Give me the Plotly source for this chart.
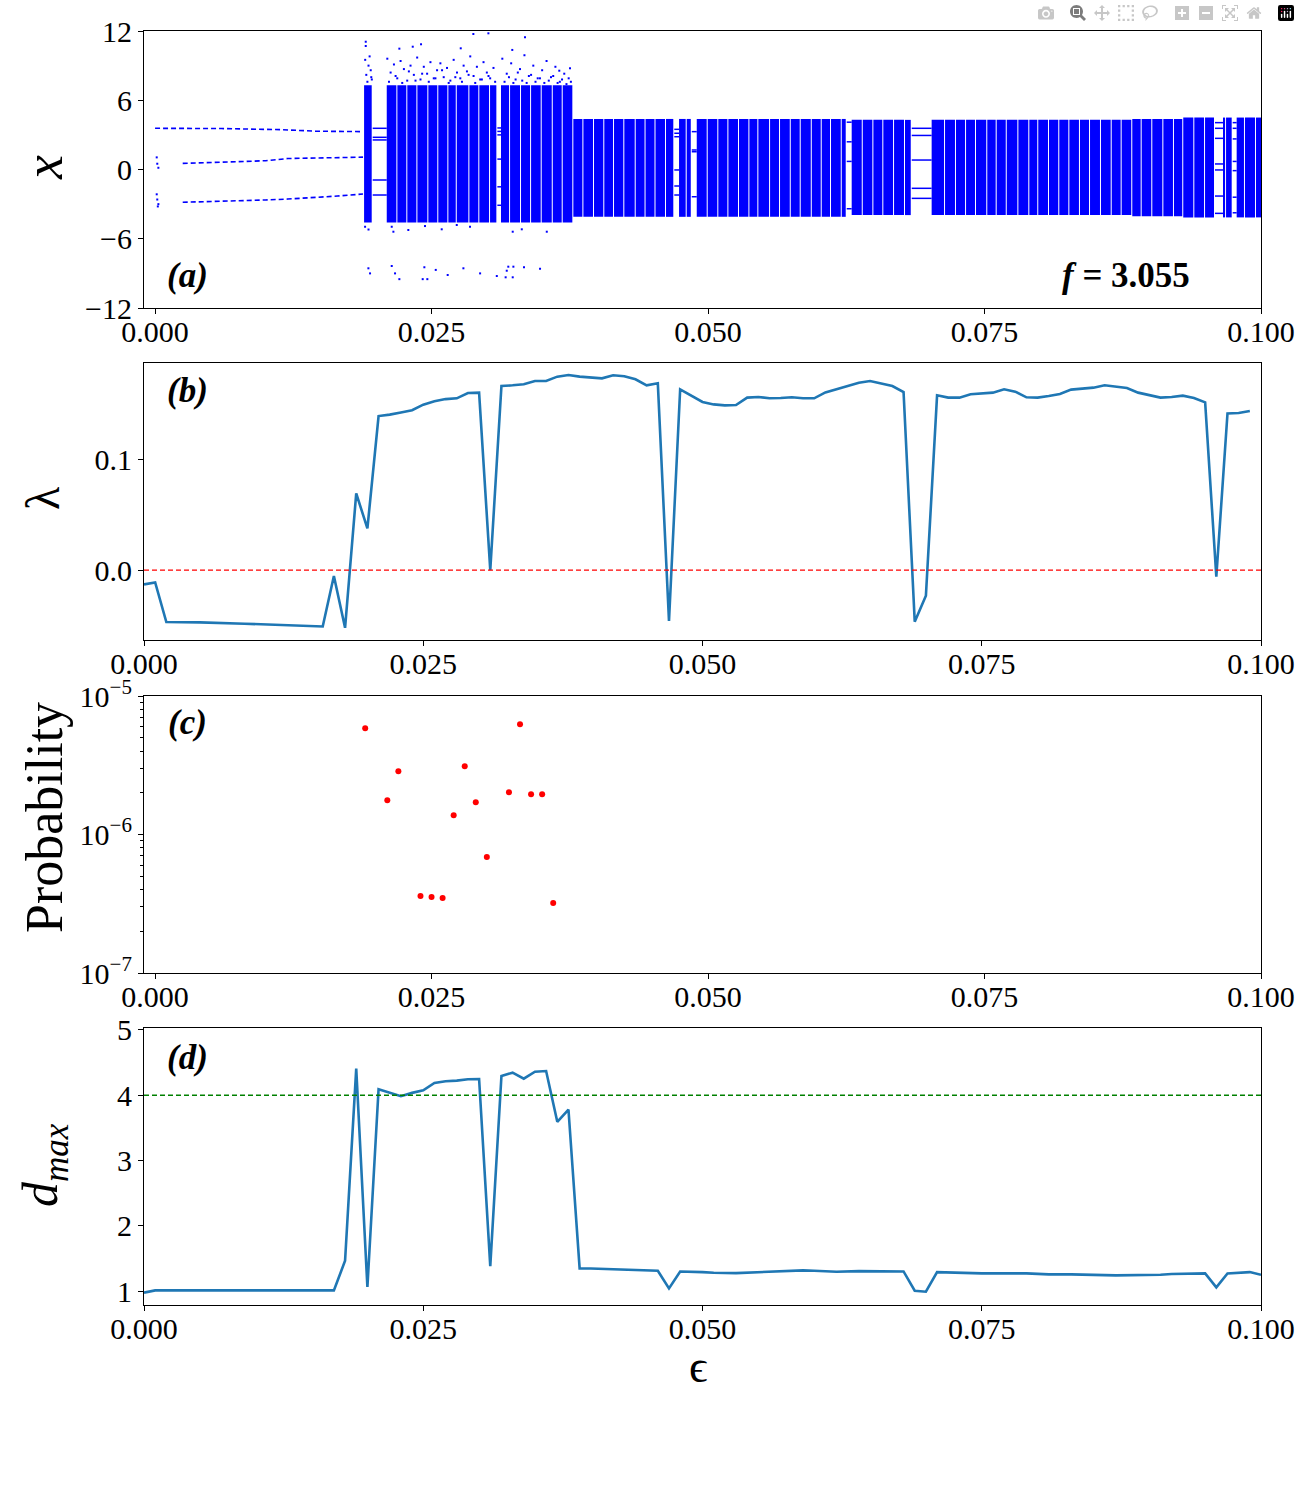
import plotly.graph_objects as go
from plotly.subplots import make_subplots

FONT = "Liberation Serif"
BLUE = "#0000ff"
LINE_COLOR = "#1f77b4"

# ---- (a) bifurcation diagram, eps given in units of 1e-3 ----
# periodic branches before the chaotic onset
top_eps = [0.0, 6.0, 11.5, 14.5, 18.8]
top_x = [3.57, 3.55, 3.45, 3.32, 3.28]
mid_eps = [2.5, 6.5, 10.0, 12.0, 14.5, 18.8]
mid_x = [0.53, 0.62, 0.76, 0.95, 1.0, 1.07]
bot_eps = [2.5, 6.5, 10.0, 12.0, 14.5, 16.5, 18.8]
bot_x = [-2.84, -2.76, -2.64, -2.56, -2.45, -2.3, -2.12]
start_eps = [0.15, 0.2, 0.3, 0.15, 0.2, 0.3, 0.25]
start_x = [1.05, 0.5, 0.15, -2.15, -2.6, -3.0, -3.2]

# edges of the columns of the chaotic attractor
col_edges = [18.90, 19.68, 20.95, 21.91, 22.81, 23.72, 24.71, 25.61, 26.52, 27.28,
             28.42, 29.32, 30.29, 30.95, 31.28, 32.10, 33.09, 34.00, 34.96, 35.96,
             36.86, 37.82, 38.73, 39.69, 40.62, 41.50, 42.43, 43.46, 44.35, 45.25,
             46.20, 46.95, 47.38, 48.07, 48.53, 48.98, 49.97, 50.93, 51.84, 52.80,
             53.74, 54.55, 55.61, 56.51, 57.48, 58.38, 59.38, 60.28, 61.12, 62.09,
             62.54, 62.99, 63.99, 64.95, 65.85, 66.82, 67.81, 68.42, 70.22, 71.43,
             72.42, 73.33, 74.23, 75.25, 76.10, 77.01, 78.06, 79.05, 79.86, 80.83,
             81.76, 82.67, 83.63, 84.54, 85.53, 86.50, 87.40, 88.36, 89.21, 90.17,
             91.17, 92.13, 92.97, 93.97, 94.94, 95.84, 96.65, 96.84, 97.44, 97.80,
             98.55, 99.55, 100.0]
col_gap = 0.09

# band extent: from eps onward
seg_eps = [0.0, 37.82, 62.5, 88.6, 92.9]
seg_lo = [-4.6, -4.1, -3.95, -4.05, -4.15]
seg_hi = [7.3, 4.38, 4.3, 4.38, 4.5]

# periodic windows inside the chaotic range and their orbit points
windows = [(19.68, 20.95), (30.95, 31.28), (46.95, 47.38), (48.53, 48.98),
           (62.54, 62.99), (68.42, 70.22), (95.84, 96.65), (97.44, 97.80)]
window_orbits = [
    [3.57, 2.79, 2.56, -0.91, -2.21],
    [3.6, 3.3, 3.0, 0.9, -1.5, -3.1],
    [3.48, 3.14, 2.84, -0.04, -1.43, -2.21],
    [3.28, 1.69, 1.54, -2.36],
    [4.1, 2.4, 0.7, -3.4],
    [3.57, 2.95, 0.82, -1.63, -2.5],
    [4.06, 3.57, 2.70, 0.48, -0.04, -2.30, -3.80],
    [4.06, 3.57, 2.65, 0.7, -0.1, -2.4, -3.75],
]

# sparse points outside the band
stray_eps = [19.05, 19.05, 19.0, 19.3, 19.5, 19.1, 19.6, 19.4, 19.2, 19.55,
             21.0, 21.3, 21.6, 21.9, 22.2, 22.5, 22.8, 23.1, 23.4, 23.7, 24.0, 24.3,
             24.6, 24.9, 25.2, 25.5, 25.8, 26.1, 26.4, 26.7, 27.0, 27.3, 27.6, 27.9,
             28.2, 28.5, 28.8, 29.1, 29.4, 29.7, 30.0, 30.3, 30.6,
             21.15, 21.75, 22.35, 22.95, 23.55, 24.15, 24.75, 25.35, 25.95, 26.55,
             27.15, 27.75, 28.35, 28.95, 29.55, 30.15, 30.75,
             31.4, 31.8, 32.2, 32.6, 33.0, 33.4, 33.8, 34.2, 34.6, 35.0, 35.4, 35.8,
             36.2, 36.6, 37.0, 37.4,
             31.6, 32.0, 32.4, 32.8, 33.2, 33.6, 34.0, 34.4, 34.8, 35.2, 35.6, 36.0,
             36.4, 36.8, 37.2, 37.6,
             22.09, 23.3, 24.05, 27.64, 28.78, 30.14, 32.3, 33.45, 36.55, 37.52,
             18.99, 19.3, 21.4, 21.55, 22.9, 24.41, 25.92, 27.28, 28.48, 32.34,
             33.16, 35.42,
             19.29, 19.44, 21.4, 21.7, 22.09, 24.35, 24.2, 24.62, 25.38, 26.46,
             27.88, 29.39, 30.9, 31.8, 31.94, 32.4, 31.7, 32.34, 33.36, 34.81]
stray_x = [11.07, 10.7, 9.5, 9.0, 8.6, 8.2, 7.8, 9.8, 7.6, 8.0,
           9.6, 8.4, 9.1, 7.9, 9.4, 8.7, 7.7, 9.0, 8.2, 9.7, 7.8, 8.9,
           8.3, 9.3, 7.9, 8.6, 9.2, 8.0, 8.8, 7.7, 9.5, 8.4, 7.9, 9.0,
           8.5, 9.8, 8.1, 8.9, 7.8, 9.3, 8.4, 7.9, 8.8,
           7.6, 8.1, 7.5, 8.5, 7.7, 8.3, 7.6, 7.9, 8.6, 7.5,
           8.0, 7.6, 8.2, 7.5, 7.8, 8.1, 7.6,
           9.6, 8.3, 9.2, 7.8, 8.7, 9.9, 8.1, 9.0, 7.9, 8.6, 9.4, 8.0,
           8.9, 7.6, 8.3, 7.9,
           7.6, 8.0, 7.5, 8.4, 7.7, 7.5, 8.2, 7.6, 7.9, 7.5, 7.7, 8.1,
           7.5, 7.8, 7.4, 7.6,
           10.47, 10.64, 10.85, 10.5, 11.74, 11.8, 10.36, 11.46, 8.56, 8.77,
           -4.96, -5.2, -4.96, -5.39, -5.24, -4.9, -5.18, -4.81, -4.96, -5.39,
           -5.18, -5.39,
           -8.56, -9.0, -8.36, -9.0, -9.5, -8.47, -9.5, -9.5, -8.7, -9.14,
           -8.56, -9.0, -9.23, -8.77, -8.42, -8.42, -9.34, -9.34, -8.47, -8.6]

# ---- (b) largest Lyapunov exponent ----
eps_b = [0.000, 0.001, 0.002, 0.005, 0.009, 0.012, 0.014, 0.016, 0.017, 0.018,
         0.019, 0.020, 0.021, 0.022, 0.023, 0.024, 0.025, 0.026, 0.027, 0.028,
         0.029, 0.030, 0.031, 0.032, 0.033, 0.034, 0.035, 0.036, 0.037, 0.038,
         0.039, 0.040, 0.041, 0.042, 0.043, 0.044, 0.045, 0.046, 0.047, 0.048,
         0.049, 0.050, 0.051, 0.052, 0.053, 0.054, 0.055, 0.056, 0.057, 0.058,
         0.059, 0.060, 0.061, 0.062, 0.063, 0.064, 0.065, 0.066, 0.067, 0.068,
         0.069, 0.070, 0.071, 0.072, 0.073, 0.074, 0.075, 0.076, 0.077, 0.078,
         0.079, 0.080, 0.081, 0.082, 0.083, 0.084, 0.085, 0.086, 0.087, 0.088,
         0.089, 0.090, 0.091, 0.092, 0.093, 0.094, 0.095, 0.096, 0.097, 0.098,
         0.099]
lyap = [-0.0129, -0.0111, -0.0468, -0.0471, -0.0483, -0.0495, -0.0505, -0.0508, -0.0054, -0.052,
        0.069, 0.0375, 0.1387, 0.140, 0.142, 0.144, 0.149, 0.152, 0.154, 0.1547,
        0.1595, 0.1598, 0.0, 0.1658, 0.1664, 0.1673, 0.1703, 0.1703, 0.1742, 0.1757,
        0.1742, 0.1733, 0.1727, 0.1754, 0.1745, 0.1718, 0.1664, 0.1682, -0.0459, 0.1628,
        0.1568, 0.1514, 0.1492, 0.1483, 0.1486, 0.1553, 0.1559, 0.1547, 0.155, 0.1556,
        0.1547, 0.1547, 0.160, 0.1628, 0.166, 0.1688, 0.1703, 0.1682, 0.1658, 0.1604,
        -0.0465, -0.0231, 0.1574, 0.1553, 0.1553, 0.1583, 0.1589, 0.1598, 0.1628, 0.1607,
        0.1556, 0.1553, 0.1568, 0.1586, 0.1625, 0.1631, 0.1643, 0.1664, 0.1649, 0.164,
        0.1598, 0.1577, 0.1553, 0.1559, 0.1571, 0.155, 0.151, -0.006, 0.1411, 0.1414,
        0.1432]
lyap_ref = 0.0

# ---- (c) probability of extreme events ----
eps_c = [0.019, 0.021, 0.022, 0.024, 0.025, 0.026, 0.027, 0.028, 0.029, 0.030,
         0.032, 0.033, 0.034, 0.035, 0.036]
prob = [5.85e-6, 1.77e-6, 2.86e-6, 3.6e-7, 3.54e-7, 3.48e-7, 1.38e-6, 3.11e-6, 1.71e-6, 6.87e-7,
        2.02e-6, 6.25e-6, 1.95e-6, 1.95e-6, 3.2e-7]

# ---- (d) d_max ----
eps_d = [0.000, 0.001, 0.017, 0.018, 0.019, 0.020, 0.021, 0.022, 0.023, 0.024,
         0.025, 0.026, 0.027, 0.028, 0.029, 0.030, 0.031, 0.032, 0.033, 0.034,
         0.035, 0.036, 0.037, 0.038, 0.039, 0.040, 0.043, 0.046, 0.047, 0.048,
         0.050, 0.051, 0.053, 0.056, 0.059, 0.060, 0.062, 0.064, 0.067, 0.068,
         0.069, 0.070, 0.071, 0.073, 0.075, 0.079, 0.081, 0.083, 0.086, 0.087,
         0.091, 0.092, 0.095, 0.096, 0.097, 0.099, 0.100]
dmax = [0.975, 1.01, 1.01, 1.463, 4.407, 1.061, 4.092, 4.041, 3.985, 4.036,
        4.076, 4.188, 4.214, 4.224, 4.244, 4.249, 1.382, 4.295, 4.346, 4.254,
        4.361, 4.371, 3.593, 3.781, 1.346, 1.346, 1.331, 1.311, 1.041, 1.30,
        1.29, 1.28, 1.275, 1.30, 1.316, 1.31, 1.295, 1.305, 1.305, 1.30,
        1.005, 0.99, 1.29, 1.28, 1.27, 1.27, 1.255, 1.255, 1.24, 1.24,
        1.25, 1.26, 1.27, 1.056, 1.27, 1.29, 1.25]
dmax_ref = 4.0

x_ticks = [0.0, 0.025, 0.05, 0.075, 0.1]


def in_window(c):
    return any(a < c < b for a, b in windows)


def band_limits(c):
    k = 0
    for i, s in enumerate(seg_eps):
        if c >= s:
            k = i
    return seg_lo[k], seg_hi[k]


fig = make_subplots(rows=4, cols=1)

# Panel (a)
cx, cy, cb, cw = [], [], [], []
for a, b in zip(col_edges[:-1], col_edges[1:]):
    mid = (a + b) / 2
    if in_window(mid):
        continue
    lo, hi = band_limits(mid)
    right = b if b >= 100.0 else b - col_gap
    cx.append((a + right) / 2 / 1000)
    cw.append((right - a) / 1000)
    cb.append(lo)
    cy.append(hi - lo)
fig.add_trace(go.Bar(x=cx, y=cy, base=cb, width=cw,
                     marker=dict(color=BLUE, line=dict(width=0)),
                     showlegend=False), row=1, col=1)

for be, bx in [(top_eps, top_x), (mid_eps, mid_x), (bot_eps, bot_x)]:
    fig.add_trace(go.Scatter(x=[e / 1000 for e in be], y=bx, mode="lines",
                             line=dict(color=BLUE, width=1.6, dash="5px,3px"),
                             showlegend=False), row=1, col=1)

wx, wy = [], []
for (a, b), orbit in zip(windows, window_orbits):
    for v in orbit:
        wx += [a / 1000, b / 1000, None]
        wy += [v, v, None]
fig.add_trace(go.Scatter(x=wx, y=wy, mode="lines",
                         line=dict(color=BLUE, width=1.5),
                         showlegend=False), row=1, col=1)

fig.add_trace(go.Scatter(x=[e / 1000 for e in stray_eps + start_eps],
                         y=stray_x + start_x, mode="markers",
                         marker=dict(color=BLUE, size=2, symbol="square"),
                         showlegend=False), row=1, col=1)

# Panel (b)
fig.add_trace(go.Scatter(x=eps_b, y=lyap, mode="lines",
                         line=dict(color=LINE_COLOR, width=2.6),
                         showlegend=False), row=2, col=1)
fig.add_hline(y=lyap_ref, line=dict(color="#ff0000", width=1.3, dash="5px,3px"),
              row=2, col=1)

# Panel (c)
fig.add_trace(go.Scatter(x=eps_c, y=prob, mode="markers",
                         marker=dict(color="#ff0000", size=6),
                         showlegend=False), row=3, col=1)

# Panel (d)
fig.add_trace(go.Scatter(x=eps_d, y=dmax, mode="lines",
                         line=dict(color=LINE_COLOR, width=2.6),
                         showlegend=False), row=4, col=1)
fig.add_hline(y=dmax_ref, line=dict(color="#008000", width=1.3, dash="5px,3px"),
              row=4, col=1)

# axes
xdom = [144 / 1300, 1261 / 1300]
ydoms = [[1 - 308 / 1500, 1 - 31 / 1500], [1 - 640 / 1500, 1 - 363 / 1500],
         [1 - 973 / 1500, 1 - 696 / 1500], [1 - 1305 / 1500, 1 - 1028 / 1500]]
xranges = [[-0.001, 0.1], [0.0, 0.1], [-0.001, 0.1], [0.0, 0.1]]

axis_common = dict(showline=True, linecolor="black", linewidth=1.2, mirror=True,
                   ticks="outside", ticklen=5, tickwidth=1.2, tickcolor="black",
                   showgrid=False, zeroline=False, automargin=False,
                   tickfont=dict(family=FONT, size=30, color="black"))

for i in range(4):
    n = "" if i == 0 else str(i + 1)
    fig.layout["xaxis" + n].update(domain=xdom, range=xranges[i], tickvals=x_ticks,
                                   ticktext=[f"{t:.3f}" for t in x_ticks],
                                   ticklabelstandoff=-8, **axis_common)
    fig.layout["yaxis" + n].update(domain=ydoms[i], **axis_common)

fig.update_yaxes(range=[-12, 12], tickvals=[-12, -6, 0, 6, 12], row=1, col=1)
fig.update_yaxes(range=[-0.063, 0.1865], tickvals=[0.0, 0.1], ticktext=["0.0", "0.1"],
                 row=2, col=1)
fig.update_yaxes(type="log", range=[-7, -5], tickvals=[1e-7, 1e-6, 1e-5],
                 ticktext=["10<sup>\u22127</sup>", "10<sup>\u22126</sup>", "10<sup>\u22125</sup>"],
                 minor=dict(ticks="outside", ticklen=3, tickcolor="black",
                            tickvals=[k * 10.0 ** e for e in (-7, -6) for k in range(2, 10)]),
                 row=3, col=1)
fig.update_yaxes(range=[0.786, 5.03], tickvals=[1, 2, 3, 4, 5], row=4, col=1)

# texts
notes = [
    ("<b><i>(a)</i></b>", 187, 275, 35, 0),
    ("<b><i>f</i> = 3.055</b>", 1126, 276, 35, 0),
    ("<b><i>(b)</i></b>", 187, 390, 35, 0),
    ("<b><i>(c)</i></b>", 187, 722, 35, 0),
    ("<b><i>(d)</i></b>", 187, 1057, 35, 0),
    ("<i>x</i>", 44, 168, 54, -90),
    ("\u03bb", 42, 498, 48, -90),
    ("Probability", 44, 818, 52, -90),
    ("<i>d</i><sub><i>max</i></sub>", 44, 1165, 50, -90),
    ("\u03f5", 698, 1366, 46, 0),
]
for text, px, py, size, angle in notes:
    fig.add_annotation(text=text, x=px / 1300, y=1 - py / 1500, xref="paper", yref="paper",
                       showarrow=False, textangle=angle, xanchor="center", yanchor="middle",
                       font=dict(family=FONT, size=size, color="black"))

fig.update_layout(width=1300, height=1500, margin=dict(l=0, r=0, t=0, b=0),
                  plot_bgcolor="white", paper_bgcolor="white", barmode="overlay",
                  font=dict(family=FONT, color="black"))

fig.write_html("out.html", post_script="document.body.style.margin='0px';")
